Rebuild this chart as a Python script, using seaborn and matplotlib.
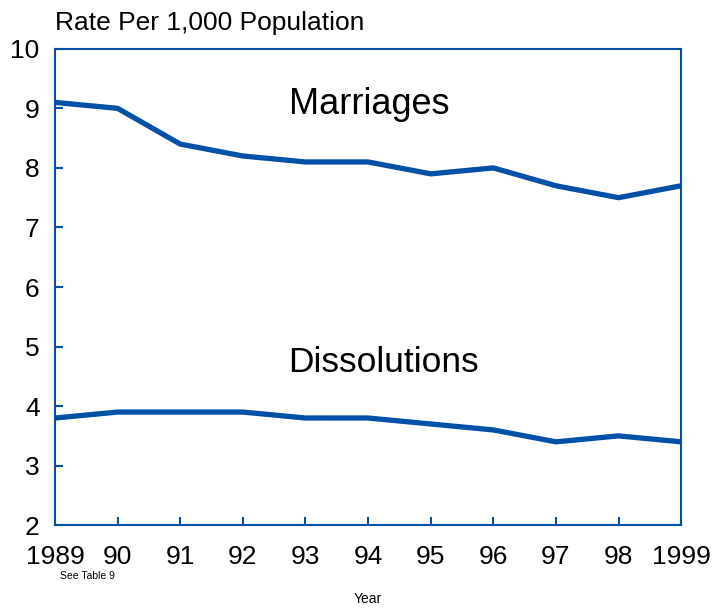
import matplotlib
matplotlib.use("Agg")
import matplotlib.pyplot as plt
import pandas as pd
import seaborn as sns

# data
years = [1989, 1990, 1991, 1992, 1993, 1994, 1995, 1996, 1997, 1998, 1999]
year_labels = ["1989", "90", "91", "92", "93", "94", "95", "96", "97", "98", "1999"]
marriages = [9.1, 9.0, 8.4, 8.2, 8.1, 8.1, 7.9, 8.0, 7.7, 7.5, 7.7]
dissolutions = [3.8, 3.9, 3.9, 3.9, 3.8, 3.8, 3.7, 3.6, 3.4, 3.5, 3.4]

df = pd.DataFrame({"year": years, "Marriages": marriages, "Dissolutions": dissolutions})
df = df.melt(id_vars="year", var_name="series", value_name="rate")

blue = "#0050a8"
sns.set_style("white")
plt.rcParams["font.family"] = ["Liberation Sans", "DejaVu Sans"]
plt.rcParams["text.color"] = "black"
plt.rcParams["xtick.labelcolor"] = "black"
plt.rcParams["ytick.labelcolor"] = "black"

fig = plt.figure(figsize=(7.14, 6.10), dpi=100)
ax = fig.add_axes([0.077, 0.139, 0.877, 0.781])

sns.lineplot(data=df, x="year", y="rate", hue="series",
             palette={"Marriages": blue, "Dissolutions": blue},
             linewidth=3.8, legend=False, ax=ax)

ax.set_xlim(1989, 1999)
ax.set_ylim(2, 10)
ax.set_xticks(years)
ax.set_xticklabels(year_labels)
ax.set_yticks(range(2, 11))
ax.tick_params(axis="x", pad=14)
ax.tick_params(axis="y", pad=11)
ax.tick_params(direction="in", length=6, width=1.5, color=blue,
               labelsize=19, labelcolor="black", left=True, bottom=True)
for s in ax.spines.values():
    s.set_color(blue)
    s.set_linewidth(1.5)
ax.set_xlabel("")
ax.set_ylabel("")

ax.text(1992.73, 9.06, "Marriages", fontsize=26, ha="left", va="center", color="black")
ax.text(1992.72, 4.74, "Dissolutions", fontsize=25.5, ha="left", va="center", color="black")

fig.text(0.077, 0.962, "Rate Per 1,000 Population", fontsize=19, ha="left", va="center", color="black")
fig.text(0.084, 0.055, "See Table 9", fontsize=7.5, ha="left", va="center", color="black")
fig.text(0.515, 0.018, "Year", fontsize=10, ha="center", va="center", color="black")

plt.savefig("out.png", dpi=100)
